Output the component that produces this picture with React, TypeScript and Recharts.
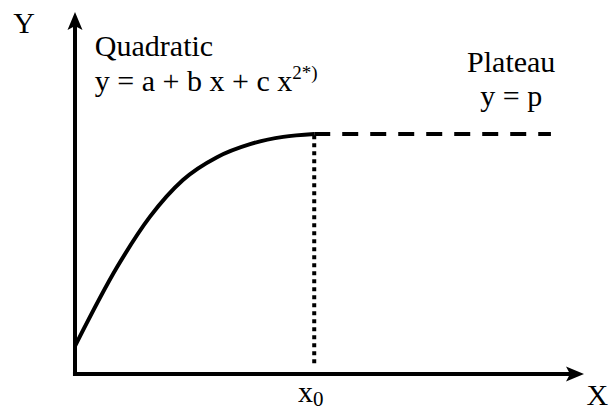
import { ComposedChart, Line, XAxis, YAxis, ReferenceLine, ReferenceDot } from "recharts";

// quadratic part (x, y in 0..100 units)
const quadX = [0, 8.3, 14.7, 21.2, 27.9, 34.4, 40.9, 47];
const quadY = [7.7, 29.6, 43.4, 53.6, 59.9, 63.5, 65.5, 66.3];

const x0 = 47;
const plateau = 66.3;
const plateauEnd = 93.5;

const quadData = quadX.map((x, i) => ({ x, y: quadY[i] }));
const plateauData = [
  { x: x0, y: plateau },
  { x: plateauEnd, y: plateau },
];
const dropData = [
  { x: x0, y: 3 },
  { x: x0, y: plateau },
];

const FONT = "'Liberation Serif', 'Times New Roman', serif";

const ArrowUp = ({ cx, cy }: any) => (
  <polygon
    points={`${cx},${cy} ${cx - 7.5},${cy + 18} ${cx},${cy + 14} ${cx + 7.5},${cy + 18}`}
    fill="#000"
  />
);

const ArrowRight = ({ cx, cy }: any) => (
  <polygon
    points={`${cx},${cy} ${cx - 18},${cy - 7.5} ${cx - 14},${cy} ${cx - 18},${cy + 7.5}`}
    fill="#000"
  />
);

const textShape =
  (content: React.ReactNode, anchor: "start" | "middle" = "start", size = 30) =>
  ({ cx, cy }: any) => (
    <text
      x={cx}
      y={cy}
      textAnchor={anchor}
      fill="#000"
      style={{ fontFamily: FONT, fontSize: size }}
    >
      {content}
    </text>
  );

export default function App() {
  return (
    <div style={{ position: "absolute", left: 0, top: 0, width: 609, height: 410, background: "#fff" }}>
      <ComposedChart width={609} height={410} margin={{ top: 12, right: 25, bottom: 36, left: 75 }}>
        <XAxis type="number" dataKey="x" domain={[0, 100]} hide allowDataOverflow />
        <YAxis type="number" dataKey="y" domain={[0, 100]} hide allowDataOverflow />

        {/* axes */}
        <ReferenceLine segment={[{ x: -0.4, y: 0 }, { x: 97.5, y: 0 }]} stroke="#000" strokeWidth={4} ifOverflow="visible" />
        <ReferenceLine segment={[{ x: 0, y: 0 }, { x: 0, y: 96.5 }]} stroke="#000" strokeWidth={4} ifOverflow="visible" />
        <ReferenceDot x={100} y={0} ifOverflow="visible" shape={ArrowRight} />
        <ReferenceDot x={0} y={100} ifOverflow="visible" shape={ArrowUp} />

        {/* join point x0 */}
        <Line
          data={dropData}
          dataKey="y"
          type="linear"
          stroke="#000"
          strokeWidth={4}
          strokeDasharray="4 4"
          dot={false}
          isAnimationActive={false}
        />

        <Line
          data={quadData}
          dataKey="y"
          type="monotone"
          stroke="#000"
          strokeWidth={4}
          dot={false}
          isAnimationActive={false}
        />
        <Line
          data={plateauData}
          dataKey="y"
          type="linear"
          stroke="#000"
          strokeWidth={4}
          strokeDasharray="16 12"
          dot={false}
          isAnimationActive={false}
        />

        {/* labels */}
        <ReferenceDot x={-10} y={94.2} ifOverflow="visible" shape={textShape("Y", "middle")} />
        <ReferenceDot x={102.6} y={-8.6} ifOverflow="visible" shape={textShape("X", "middle")} />
        <ReferenceDot x={3.9} y={87.8} ifOverflow="visible" shape={textShape("Quadratic")} />
        <ReferenceDot
          x={3.9}
          y={78.2}
          ifOverflow="visible"
          shape={textShape(
            <>
              {"y = a + b x + c x"}
              <tspan dy={-12} style={{ fontSize: 19 }}>
                {"2*)"}
              </tspan>
            </>
          )}
        />
        <ReferenceDot x={85.7} y={83.4} ifOverflow="visible" shape={textShape("Plateau", "middle")} />
        <ReferenceDot x={85.7} y={74.0} ifOverflow="visible" shape={textShape("y = p", "middle")} />
        <ReferenceDot
          x={43.8}
          y={-7.8}
          ifOverflow="visible"
          shape={textShape(
            <>
              {"x"}
              <tspan dy={4} style={{ fontSize: 21 }}>
                {"0"}
              </tspan>
            </>
          )}
        />
      </ComposedChart>
    </div>
  );
}
